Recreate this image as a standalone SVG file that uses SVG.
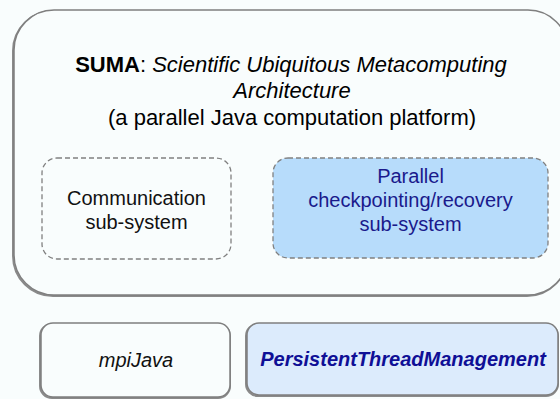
<svg xmlns="http://www.w3.org/2000/svg" width="560" height="399" viewBox="0 0 560 399">
<style>
.t{font-family:"Liberation Sans",Arial,sans-serif;text-anchor:middle;}
.title{font-size:22px;fill:#000;}
.sub{font-size:20px;}
.box{stroke:#7f7f7f;stroke-width:1.5;}
.shadow{fill:none;stroke:#8a8a8a;stroke-width:2;}
.dash{fill:none;stroke:#808080;stroke-width:1.3;stroke-dasharray:5 3;}
</style>
<rect width="560" height="399" fill="#f9fdfd"/>
<g id="suma">
<rect class="shadow" x="13" y="11" width="554" height="285" rx="40"/>
<rect class="box" x="14" y="10" width="554" height="285" rx="40" fill="#f9fdfd"/>
<text class="t title" x="291" y="72"><tspan font-weight="bold">SUMA</tspan>: <tspan font-style="italic">Scientific Ubiquitous Metacomputing</tspan></text>
<text class="t title" x="292" y="98" font-style="italic">Architecture</text>
<text class="t title" x="292" y="125">(a parallel Java computation platform)</text>
</g>
<g id="communication">
<rect class="dash" x="42" y="158" width="189" height="101" rx="15" fill="#f9fdfd"/>
<text class="t sub" x="136.5" y="205" fill="#111">Communication</text>
<text class="t sub" x="136.5" y="229" fill="#111">sub-system</text>
</g>
<g id="checkpointing">
<rect class="dash" x="273" y="158" width="275" height="100" rx="15" style="fill:#b7dcfb"/>
<text class="t sub" x="410.5" y="183" fill="#1a1a8c">Parallel</text>
<text class="t sub" x="410.5" y="207" fill="#1a1a8c">checkpointing/recovery</text>
<text class="t sub" x="410.5" y="231" fill="#1a1a8c">sub-system</text>
</g>
<g id="mpijava">
<rect class="shadow" x="40" y="324" width="190" height="74" rx="12"/>
<rect class="box" x="41" y="323" width="189" height="74" rx="12" fill="#f9fdfd"/>
<text class="t sub" x="136" y="367" font-style="italic" fill="#111">mpiJava</text>
</g>
<g id="ptm">
<rect class="shadow" x="246" y="324" width="312" height="72" rx="12"/>
<rect class="box" x="247" y="323" width="311" height="72" rx="12" fill="#dcebfc"/>
<text class="t sub" x="403" y="366" font-style="italic" font-weight="bold" fill="#0f0f96">PersistentThreadManagement</text>
</g>
<g id="connectors"/>
</svg>
